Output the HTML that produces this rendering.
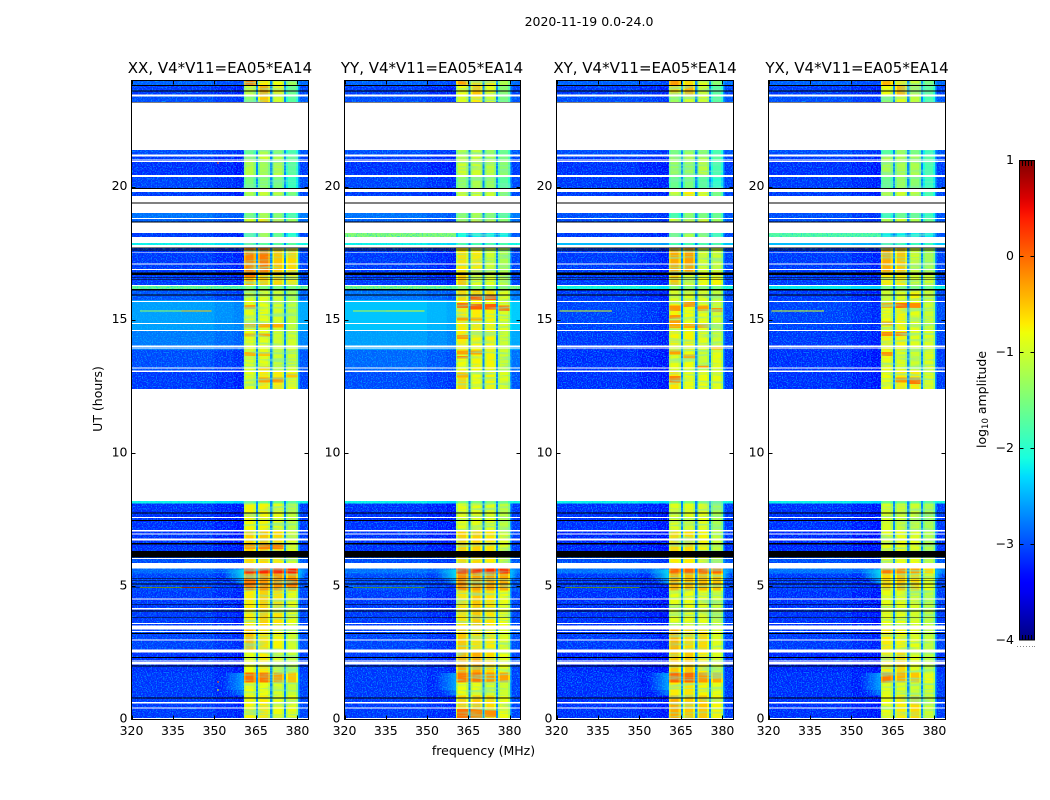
<!DOCTYPE html>
<html lang="en">
<head>
<meta charset="utf-8">
<title>2020-11-19 0.0-24.0</title>
<style>
html,body{margin:0;padding:0;background:#fff;width:1050px;height:800px;overflow:hidden}
svg{display:block}
text{font-family:"DejaVu Sans","Liberation Sans",sans-serif;fill:#000}
.tick{font-size:12.5px}
.ttl{font-size:15px}
</style>
</head>
<body>
<svg id="chart" width="1050" height="800" viewBox="0 0 1050 800" xmlns="http://www.w3.org/2000/svg">
  <defs>
    <linearGradient id="jetGrad" x1="0" y1="1" x2="0" y2="0"></linearGradient>
    <filter id="speckle" x="0" y="0" width="100%" height="100%">
      <feTurbulence type="fractalNoise" baseFrequency="0.8" numOctaves="1" seed="4"/>
      <feColorMatrix type="matrix" values="0 0 0 0 0  0 0 0 0 0.55  0 0 0 0 1  5 0 0 0 -2.4"/>
    </filter>
    <filter id="streak" x="0" y="0" width="100%" height="100%">
      <feTurbulence type="fractalNoise" baseFrequency="0.03 0.42" numOctaves="2" seed="9"/>
      <feColorMatrix type="matrix" values="0 0 0 0 0.2  0 0 0 0 0.85  0 0 0 0 0.5  4 0 0 0 -1.8"/>
    </filter>
  </defs>
  <text x="589" y="26" text-anchor="middle" class="tick">2020-11-19 0.0-24.0</text>
  <text x="220" y="73" text-anchor="middle" class="ttl">XX, V4*V11=EA05*EA14</text>
  <text x="432" y="73" text-anchor="middle" class="ttl">YY, V4*V11=EA05*EA14</text>
  <text x="645" y="73" text-anchor="middle" class="ttl">XY, V4*V11=EA05*EA14</text>
  <text x="857" y="73" text-anchor="middle" class="ttl">YX, V4*V11=EA05*EA14</text>
  <text x="483.5" y="755" text-anchor="middle" class="tick">frequency (MHz)</text>
  <text transform="translate(102 399) rotate(-90)" text-anchor="middle" class="tick">UT (hours)</text>
  <text transform="translate(986 399.5) rotate(-90)" text-anchor="middle" class="tick">log<tspan font-size="8.5px" dy="2">10</tspan><tspan dy="-2"> amplitude</tspan></text>
  <g id="panels"></g>
  <g id="colorbar"></g>
</svg>
<script>
// ---- Chart data (log10 amplitude) ----
const freqTicks = [320, 335, 350, 365, 380];
const timeTicks = [0, 5, 10, 15, 20];
const colorTicks = [-4, -3, -2, -1, 0, 1];
const colorTickLabels = ['\u22124', '\u22123', '\u22122', '\u22121', '0', '1'];

// Time bands in hours; each level row = [off-band, sub-band 1, 2, 3, 4]
const timeBands = [
 [0,0.9],[0.9,1.39],[1.39,1.77],[1.77,2.59],[2.59,3.53],[3.53,4.85],[4.85,5.49],[5.49,5.67],
 [5.88,6.09],[6.09,7.11],[7.11,8.12],[8.12,8.2],
 [12.41,13.12],[13.12,13.87],[13.87,14.62],[14.62,15.75],[15.75,16.17],[16.17,16.32],[16.32,16.8],
 [16.8,17.71],[17.71,17.89],[18.12,18.27],[18.66,18.83],[18.83,19.02],[19.66,19.81],[19.92,20.38],
 [20.45,21.0],[21.0,21.2],[21.2,21.39],[23.17,23.39],[23.47,23.8],[23.8,24]
];
const xxLevels = [
 [-3,-.75,-.7,-.8,-.85],[-3,-.8,-.8,-.95,-1.05],[-3,-.05,-.1,-.3,-.5],[-3.05,-.8,-.7,-.9,-1.05],
 [-2.95,-.45,-.65,-.75,-1],[-3,-.7,-.55,-.65,-.85],[-2.95,-.2,-.25,-.25,-.3],[-2.75,.35,.35,.35,.35],
 [-2.9,-.6,-.6,-.7,-1],[-3.05,-.55,-.5,-.6,-.9],[-3.05,-.75,-.75,-.85,-1.1],[-2.15,-1.6,-1.6,-1.6,-1.7],
 [-3,-.85,-.7,-.7,-.85],[-2.9,-.9,-.85,-1,-1],[-2.65,-.85,-.85,-1,-1],[-2.45,-.85,-.85,-.95,-1.1],
 [-2.85,-1,-.9,-1,-1.2],[-1.6,-1.5,-1.5,-1.5,-1.5],[-3,-.45,-.55,-.6,-.7],[-3,-.15,-.1,-.5,-.6],
 [-2.15,-1.7,-1.7,-1.7,-1.7],[-3,-1.8,-1.2,-1.6,-2],[-2.8,-1,-.7,-.8,-1.3],[-2.7,-1.5,-1.2,-1.4,-1.8],
 [-3,-1.2,-1,-1.1,-1.5],[-2.95,-1.5,-1.4,-1.5,-1.9],[-3.05,-1.15,-1.25,-1.15,-1.7],[-3,-1.2,-1,-1.2,-1.6],
 [-2.9,-1.6,-1.2,-1.4,-1.8],[-2.9,-1.4,-.5,-1,-1.7],[-3,-1,-.35,-.75,-1.6],[-2.8,-.1,-.7,-.8,-1.3]
];
const yyLevels = [
 [-3,-.55,-.5,-.6,-.8],[-3,-.8,-.8,-.9,-1],[-3,-.1,-.1,-.25,-.3],[-3,-.4,-.35,-.6,-.8],
 [-2.95,-.5,-.65,-.7,-.9],[-3,-.65,-.5,-.65,-.8],[-2.9,-.2,-.3,-.3,-.35],[-2.7,.3,.3,.3,.3],
 [-2.9,-.6,-.6,-.7,-1],[-3.05,-.55,-.55,-.65,-.9],[-3.05,-.85,-.85,-.9,-1.1],[-2.15,-1.5,-1.5,-1.5,-1.6],
 [-2.9,-.6,-.8,-.75,-.9],[-2.75,-.8,-.75,-.75,-1],[-2.45,-.7,-.75,-.75,-1],[-2.25,-.7,-.7,-.75,-.9],
 [-2.7,-.6,-.6,-.6,-.9],[-1.5,-1.4,-1.4,-1.4,-1.4],[-3,-.5,-.9,-.9,-1.1],[-3,-.65,-.7,-1,-1.2],
 [-2.15,-1.8,-1.8,-1.8,-1.8],[-2.9,-2.1,-2.2,-2.2,-2.2],[-2.8,-1.2,-.8,-1,-1.4],[-2.7,-1.4,-1.2,-1.4,-1.7],
 [-3,-1,-1,-1,-1.4],[-2.95,-1.35,-1.2,-1.3,-1.7],[-3.05,-1,-1,-1.1,-1.4],[-3,-1,-1,-1.2,-1.5],
 [-2.9,-1.2,-1.1,-1.3,-1.6],[-2.9,-.9,-.7,-1,-1.5],[-3,-.8,-.5,-.85,-1.4],[-2.8,-.3,-.6,-.7,-1.2]
];
const xyLevels = [
 [-3.05,-.35,-.5,-.5,-.75],[-3.05,-.7,-.65,-.75,-.85],[-3.05,0,0,-.25,-.35],[-3.1,-.5,-.5,-.7,-.9],
 [-3,-.4,-.6,-.6,-.9],[-3.05,-.85,-.8,-.85,-1],[-3,-.4,-.45,-.45,-.5],[-2.7,0,0,0,0],
 [-2.9,-.7,-.7,-.8,-1],[-3.1,-.6,-.6,-.75,-1.05],[-3.05,-.9,-.9,-.85,-1.2],[-2.15,-1.5,-1.5,-1.5,-1.6],
 [-3.05,-.65,-.8,-.8,-.85],[-3.05,-.85,-.8,-1,-.85],[-3,-.75,-.75,-.85,-1],[-2.95,-.75,-.8,-.85,-.95],
 [-3,-.9,-.9,-.9,-1.1],[-2.1,-1.4,-1.4,-1.4,-1.5],[-3,-.5,-.9,-.8,-.75],[-3,-.35,-.3,-.95,-1],
 [-2.3,-1.8,-1.8,-1.8,-1.8],[-3,-1.5,-1.2,-1.4,-1.9],[-2.9,-.9,-.9,-.85,-1.3],[-2.9,-1.8,-1.4,-1.5,-1.6],
 [-3,-1,-.7,-.9,-1.5],[-3,-1.6,-1.5,-1.7,-2],[-3.05,-1.3,-1.3,-1.1,-1.8],[-3,-1.2,-1,-1.2,-1.7],
 [-2.9,-1.5,-1.3,-1.4,-1.8],[-2.9,-1.3,-1,-1,-1.7],[-3,-.6,-.4,-1,-1.7],[-2.8,-.25,-.6,-.9,-1.4]
];
const yxLevels = [
 [-3.05,-.8,-.7,-.6,-1],[-3.05,-.9,-.9,-1,-1],[-3.05,-.1,-.4,-.5,-.8],[-3.1,-.7,-.6,-.9,-1.1],
 [-3,-.7,-.75,-.85,-1.05],[-3.05,-.85,-.85,-.95,-1.1],[-3,-.6,-.5,-.6,-.85],[-2.7,-.1,-.2,-.3,-.6],
 [-2.9,-.85,-.8,-.8,-1.1],[-3.1,-.85,-.8,-.85,-1.15],[-3.05,-.95,-1,-1,-1.2],[-2.15,-1.6,-1.6,-1.6,-1.7],
 [-3.05,-.8,-.7,-.7,-.9],[-3.05,-.8,-.9,-1,-.9],[-3,-.75,-.75,-.9,-.9],[-2.95,-.8,-.75,-.85,-1],
 [-3,-1,-.9,-.75,-1],[-2.2,-1.5,-1.5,-1.5,-1.6],[-3,-.7,-.7,-1,-1],[-3,-.35,-.5,-1,-1.2],
 [-2.3,-1.9,-1.9,-1.9,-1.9],[-2.9,-2.2,-2.2,-2.2,-2.2],[-2.9,-1.2,-1,-1.2,-1.6],[-2.9,-1.9,-1.6,-1.6,-1.9],
 [-3,-1.1,-1,-1.1,-1.8],[-3,-1.6,-1.3,-1.4,-1.9],[-3.05,-1.2,-1.2,-1.2,-1.8],[-3,-1.1,-1.1,-1.2,-1.7],
 [-2.9,-1.7,-1.3,-1.5,-1.9],[-2.9,-1.4,-.9,-1.1,-1.8],[-3,-.8,-.4,-1,-1.7],[-2.8,-.4,-.7,-1,-1.5]
];

// Local patches: [t0, t1, column (0 = off-band, 1-4 = sub-bands), level]
const xxPatches = [
 [15.42,15.56,1,-.3],[14.72,14.86,1,-.35],[14.72,14.86,2,-.35],[14.72,14.86,3,-.35],[14.38,14.5,1,-.4],[14.38,14.5,2,-.35],
 [13.65,13.8,1,-.4],[13.65,13.8,2,-.5],[13.15,13.25,2,-.45],[12.65,12.85,2,-.3],[12.65,12.85,3,-.25],[12.85,13,4,-.5],
 [16.6,16.8,1,-.1],[6.4,6.55,2,-.15],[6.4,6.55,3,-.15],[6.4,6.55,1,-.3],[5.0,5.3,1,-.1],[5.0,5.3,4,-.1]
];
const yyPatches = [
 [15.75,15.95,2,.05],[15.75,15.95,3,.05],[15.45,15.65,1,-.05],[15.4,15.6,2,.05],[15.4,15.6,3,.05],[15.35,15.55,4,-.1],
 [14.98,15.1,1,-.3],[14.98,15.1,2,-.4],[14.3,14.45,1,-.3],[13.7,13.85,1,-.3],[13.7,13.85,2,-.3],[13.55,13.65,1,-.2],[12.85,13,1,-.4],
 [0.05,0.4,1,-.05],[0.05,0.4,2,-.15],[0.1,0.35,3,-.2],[18.12,18.27,0,-1.4]
];
const xyPatches = [
 [15.35,15.55,1,-.25],[15.5,15.7,2,-.25],[15.35,15.55,3,-.3],[15.3,15.45,4,-.25],[15.05,15.2,1,-.25],[14.85,15,1,-.3],
 [14.7,14.85,1,-.35],[14.7,14.85,2,-.35],[14.7,14.85,3,-.35],[13.9,14.05,4,-.4],[13.7,13.85,1,-.3],[13.55,13.7,2,-.35],[13.2,13.3,3,-.3],[12.65,12.9,1,-.15]
];
const yxPatches = [
 [15.45,15.65,2,-.05],[15.45,15.65,1,-.35],[15.45,15.65,3,-.2],[14.8,14.95,1,-.3],[14.4,14.55,1,-.2],[14.4,14.55,2,-.2],
 [13.65,13.8,1,-.25],[12.65,12.85,2,-.25],[12.6,12.85,3,-.1],[18.12,18.27,0,-1.7]
];
const panelPatches = [xxPatches, yyPatches, xyPatches, yxPatches];

// Frequency channels in MHz: group 0 = off-band, 1-4 = sub-bands, -1 = notch, -2 = band edge
const channelEdges  = [320,350,357,360.6,361.3,364.2,365,365.8,366.5,369.4,370.1,370.9,371.6,374.4,375.1,375.9,376.6,379.4,380.2,380.8,384];
const channelGroup  = [0,0,0,1,1,1,-1,2,2,2,-1,3,3,3,-1,4,4,4,-2,0];
const channelOffset = [0,-.08,-.14,-.3,0,-.25,0,-.3,0,-.25,0,-.3,0,-.25,0,-.3,0,-.3,0,.05];
const notchLevel = -2.7;
const edgeLevel = -2.6;
// Frequency limits of each patch column, MHz
const columnLow  = [320, 360.9, 365.9, 371, 376];
const columnHigh = [360.6, 364.9, 370, 375, 380];

// Off-band lobes next to the band: [t0, t1, f0, f1, level]
const lobes = [
 [5.3,5.64,353,360.6,-2.2],[5.1,5.3,356,360.6,-2.5],[5.3,5.64,380.4,383,-2.4],
 [1.1,1.75,353,360.6,-2.5],[0.9,1.1,355,360.6,-2.7]
];
// Narrow-band interference rows: [panel, t, f0, f1, level]
const spikes = [
 [0,4.96,323,338,-1.0],[0,4.96,338,349,0],[0,15.34,323,338,-1.3],[0,15.34,338,349,-.5],
 [1,4.96,323,349,-1.4],[1,15.34,323,335,-1.1],[1,15.34,335,349,-.9],
 [2,4.96,323,350,-1.2],[2,15.34,321,340,-.9],[3,15.34,321,340,-.9],
 [0,1.4,351,351.6,0],[0,1.1,351,351.6,-.8],[0,20.9,351,351.6,.1]
];
// Flagged (white) and blank (black) time ranges in hours
const gapRanges = [
 [21.39,23.17],[23.39,23.47],[21.15,21.22],[21.0,21.04],[20.93,20.97],[20.38,20.45],[19.81,19.92],[19.42,19.66],[19.02,19.38],
 [18.8,18.83],[18.27,18.66],[17.89,18.12],[17.73,17.83],[17.54,17.56],[17.09,17.13],[16.88,16.92],[16.28,16.32],
 [15.68,15.72],[14.85,14.89],[14.59,14.63],[14.0,14.04],[13.93,13.97],[13.18,13.22],[13.06,13.1],[8.2,12.41],
 [7.56,7.6],[7.07,7.11],[6.94,6.98],[6.73,6.79],[6.03,6.07],[5.67,5.88],[4.51,4.55],[4.14,4.18],[3.59,3.63],
 [3.38,3.53],[3.29,3.33],[2.97,3.01],[2.51,2.63],[2.18,2.22],[2.07,2.16],[0.61,0.65],[0.41,0.45],[0.02,0.06]
];
const blankRanges = [
 [23.8,23.83],[23.58,23.62],[23.17,23.2],[19.92,19.96],[19.38,19.42],[18.66,18.7],[17.69,17.73],[17.62,17.65],
 [16.7,16.79],[16.6,16.62],[16.5,16.53],[16.11,16.17],[15.92,15.96],[7.74,7.77],[7.46,7.5],[6.58,6.62],[6.09,6.32],
 [5.27,5.3],[5.2,5.23],[5.07,5.1],[4.95,4.98],[4.31,4.34],[4.06,4.09],[3.81,3.84],[3.21,3.24],[2.31,2.34],
 [2.0,2.03],[0.79,0.82]
];
const panelLevels = [xxLevels, yyLevels, xyLevels, yxLevels];
const panelKeys = ['xx', 'yy', 'xy', 'yx'];

// ---- Layout ----
const panelLeft = [131.5, 344.5, 556.5, 768.5];
const panelRight = [308.5, 520.5, 733.5, 945.5];
const plotTop = 80.5, plotBottom = 719.5;
const NS = 'http://www.w3.org/2000/svg';
const svg = document.getElementById('chart');

// ---- Scales ----
function xScale(p, f) { return panelLeft[p] + (f - 320) * (panelRight[p] - panelLeft[p]) / 64; }
function yScale(t) { return plotBottom - t * (plotBottom - plotTop) / 24; }
function cbScale(v) { return 640 - (v + 4) * 96; }

function seg(pts, x) {
  for (let i = 1; i < pts.length; i++) {
    if (x <= pts[i][0]) {
      const a = pts[i - 1], b = pts[i];
      return a[1] + (b[1] - a[1]) * (x - a[0]) / (b[0] - a[0]);
    }
  }
  return pts[pts.length - 1][1];
}
const jetR = [[0,0],[.35,0],[.66,1],[.89,1],[1,.5]];
const jetG = [[0,0],[.125,0],[.375,1],[.64,1],[.91,0],[1,0]];
const jetB = [[0,.5],[.11,1],[.34,1],[.65,0],[1,0]];
function jet(v) {
  const n = Math.max(0, Math.min(1, (v + 4) / 5));
  return 'rgb(' + Math.round(255 * seg(jetR, n)) + ',' + Math.round(255 * seg(jetG, n)) + ',' + Math.round(255 * seg(jetB, n)) + ')';
}
function mk(tag, parent, attrs) {
  const el = document.createElementNS(NS, tag);
  for (const k in attrs) el.setAttribute(k, attrs[k]);
  parent.appendChild(el);
  return el;
}
function hband(g, p, t0, t1, fill) {
  const y0 = yScale(t1), y1 = yScale(t0);
  return mk('rect', g, { x: panelLeft[p], y: y0, width: panelRight[p] - panelLeft[p], height: y1 - y0, fill: fill, 'shape-rendering': 'crispEdges' });
}

// Horizontal fade for the lobes
const defs = svg.querySelector('defs');
lobes.forEach(function (l, i) {
  const lg = mk('linearGradient', defs, { id: 'lobe' + i, x1: 0, y1: 0, x2: 1, y2: 0 });
  const inward = l[2] > 370;
  mk('stop', lg, { offset: 0, 'stop-color': jet(l[4]), 'stop-opacity': inward ? 0.9 : 0 });
  mk('stop', lg, { offset: 1, 'stop-color': jet(l[4]), 'stop-opacity': inward ? 0 : 0.9 });
});

// ---- Panels ----
const root = document.getElementById('panels');
panelKeys.forEach(function (key, p) {
  const g = mk('g', root, {});
  
  
  const levels = panelLevels[p];

  timeBands.forEach(function (band, r) {
    channelGroup.forEach(function (grp, c) {
      let v;
      if (grp === -1) v = notchLevel;
      else if (grp === -2) v = Math.max(edgeLevel, levels[r][0]);
      else if (grp === 0) v = levels[r][0] + (levels[r][0] < -2.2 ? -0.16 : 0) + channelOffset[c];
      else v = levels[r][grp] + channelOffset[c];
      const x0 = xScale(p, channelEdges[c]), x1 = xScale(p, channelEdges[c + 1]);
      const y0 = yScale(band[1]), y1 = yScale(band[0]);
      const cell = mk('rect', g, { x: x0, y: y0, width: x1 - x0, height: y1 - y0, fill: jet(v), 'shape-rendering': 'crispEdges' });
      
      
    });
  });

  panelPatches[p].forEach(function (q) {
    const x0 = xScale(p, columnLow[q[2]]), x1 = xScale(p, columnHigh[q[2]]), y0 = yScale(q[1]), y1 = yScale(q[0]);
    const patch = mk('rect', g, { x: x0, y: y0, width: x1 - x0, height: y1 - y0, fill: jet(q[3]), 'shape-rendering': 'crispEdges' });
    
    
  });

  lobes.forEach(function (l, i) {
    const x0 = xScale(p, l[2]), x1 = xScale(p, l[3]), y0 = yScale(l[1]), y1 = yScale(l[0]);
    const lobe = mk('rect', g, { x: x0, y: y0, width: x1 - x0, height: y1 - y0, fill: 'url(#lobe' + i + ')' });
    
    
  });

  // Visual speckle only, carries no data values
  const speckleA = mk('rect', g, { x: xScale(p, 320), y: plotTop, width: xScale(p, 360.6) - xScale(p, 320), height: plotBottom - plotTop, filter: 'url(#speckle)', opacity: 0.6 });
  
  
  const speckleB = mk('rect', g, { x: xScale(p, 380.8), y: plotTop, width: xScale(p, 384) - xScale(p, 380.8), height: plotBottom - plotTop, filter: 'url(#speckle)', opacity: 0.6 });
  
  
  const streak = mk('rect', g, { x: xScale(p, 360.6), y: plotTop, width: xScale(p, 380.2) - xScale(p, 360.6), height: plotBottom - plotTop, filter: 'url(#streak)', opacity: 0.6 });
  
  

  spikes.filter(function (s) { return s[0] === p; }).forEach(function (s) {
    const x0 = xScale(p, s[2]), x1 = xScale(p, s[3]), yc = yScale(s[1]);
    const sp = mk('rect', g, { x: x0, y: yc - 0.5, width: x1 - x0, height: 1, fill: jet(s[4]), 'shape-rendering': 'crispEdges' });
    
    
  });

  gapRanges.forEach(function (r) {
    const gap = hband(g, p, r[0], r[1], '#fff');
    
    
  });
  blankRanges.forEach(function (r) {
    const blank = hband(g, p, r[0], r[1], '#000');
    
    
  });

  const frame = mk('rect', g, { x: panelLeft[p], y: plotTop, width: panelRight[p] - panelLeft[p], height: plotBottom - plotTop, fill: 'none', stroke: '#000', 'stroke-width': 1 });
  
  

  freqTicks.forEach(function (f) {
    const x = Math.round(xScale(p, f)) + 0.5;
    const t1 = mk('line', g, { x1: x, x2: x, y1: plotBottom, y2: plotBottom - 4, stroke: '#000' });
    
    
    const t2 = mk('line', g, { x1: x, x2: x, y1: plotTop, y2: plotTop + 4, stroke: '#000' });
    
    
    const lab = mk('text', g, { x: xScale(p, f), y: 735, 'text-anchor': 'middle', class: 'tick' });
    
    
    lab.textContent = f;
  });
  timeTicks.forEach(function (t) {
    const y = Math.round(yScale(t) - 0.5) + 0.5;
    const t1 = mk('line', g, { x1: panelLeft[p], x2: panelLeft[p] + 4, y1: y, y2: y, stroke: '#000' });
    
    
    const t2 = mk('line', g, { x1: panelRight[p], x2: panelRight[p] - 4, y1: y, y2: y, stroke: '#000' });
    
    
    const lab = mk('text', g, { x: panelLeft[p] - 4, y: yScale(t) + 3, 'text-anchor': 'end', class: 'tick' });
    
    
    lab.textContent = t;
  });
});

// ---- Colorbar ----
const grad = document.getElementById('jetGrad');
for (let v = -4; v <= 1.0001; v += 0.1) {
  mk('stop', grad, { offset: ((v + 4) / 5).toFixed(3), 'stop-color': jet(v) });
}
const cb = document.getElementById('colorbar');
const cbBar = mk('rect', cb, { x: 1019.5, y: 160.5, width: 15, height: 479.5, fill: 'url(#jetGrad)', stroke: '#000', 'stroke-width': 1 });


colorTicks.forEach(function (v, i) {
  const y = Math.round(cbScale(v)) + 0.5;
  if (i > 0 && i < colorTicks.length - 1) {
    const a = mk('line', cb, { x1: 1019.5, x2: 1023.5, y1: y, y2: y, stroke: '#000' });
    
    
    const b = mk('line', cb, { x1: 1034.5, x2: 1030.5, y1: y, y2: y, stroke: '#000' });
    
    
  }
  const lab = mk('text', cb, { x: 1014, y: cbScale(v) + 4, 'text-anchor': 'end', class: 'tick' });
  
  
  lab.textContent = colorTickLabels[i];
});
[1022.5, 1025.5, 1028.5, 1031.5].forEach(function (x) {
  const top = mk('line', cb, { x1: x, x2: x, y1: 161, y2: 166, stroke: '#000' });
  
  
  const bot = mk('line', cb, { x1: x, x2: x, y1: 640, y2: 635, stroke: '#000' });
  
  
});
[1017, 1020, 1023, 1026, 1029, 1032, 1034].forEach(function (x) {
  const dot = mk('rect', cb, { x: x, y: 646, width: 1, height: 1, fill: '#888' });
  
  
});
</script>
</body>
</html>
